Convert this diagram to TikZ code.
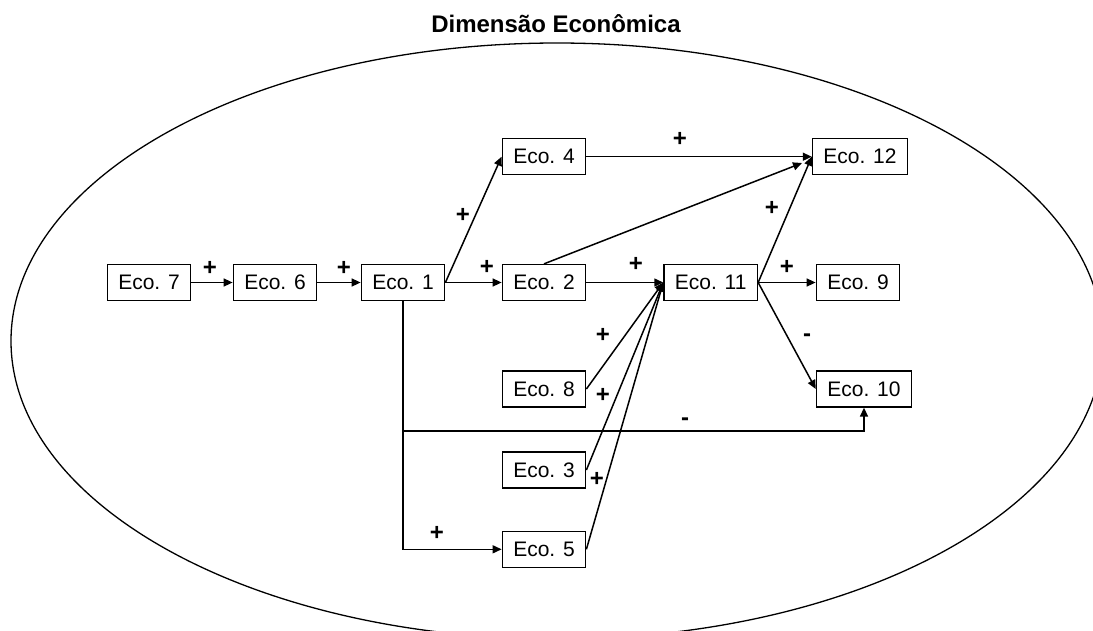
\documentclass[tikz,border=0pt]{standalone}
\usepackage{fontspec}
\setmainfont{Liberation Sans}
\usetikzlibrary{arrows.meta,calc}
\begin{document}
\begin{tikzpicture}[x=1pt,y=-1pt,
  ecobox/.style={draw,line width=1.3pt,inner xsep=11pt,inner ysep=0pt,minimum height=36pt,font=\fontsize{21}{24}\selectfont},
  conn/.style={line width=1.5pt,-{Triangle[length=9pt,width=8pt]}},
  sgn/.style={font=\fontsize{24}{28}\selectfont\bfseries,inner sep=0pt}]
\useasboundingbox (0,0) rectangle (1093,630);
\begin{scope}
\clip (0,0) rectangle (1093,630);
\draw[line width=1.3pt] (557,341) ellipse [x radius=546, y radius=298];
\end{scope}
\node[font=\fontsize{24}{28}\selectfont\bfseries,inner sep=0pt] (title) at (556,24) {Dimensão Econômica};

\node[ecobox] (e7) at (149,282.5) {Eco. 7};
\node[ecobox] (e6) at (275,282.5) {Eco. 6};
\node[ecobox] (e1) at (403,282.5) {Eco. 1};
\node[ecobox] (e4) at (544,156.7) {Eco. 4};
\node[ecobox] (e2) at (544,282.5) {Eco. 2};
\node[ecobox] (e8) at (544,389) {Eco. 8};
\node[ecobox] (e3) at (544,470) {Eco. 3};
\node[ecobox] (e5) at (544,549.3) {Eco. 5};
\node[ecobox] (e11) at (710.7,282.5) {Eco. 11};
\node[ecobox] (e12) at (860,156.7) {Eco. 12};
\node[ecobox] (e9) at (858,282.5) {Eco. 9};
\node[ecobox] (e10) at (864,389) {Eco. 10};

\coordinate (e12in) at (802,163);
\coordinate (c1a) at (403,431);
\coordinate (c1b) at (403,549.3);

\draw[conn] (e7) -- (e6);
\draw[conn] (e6) -- (e1);
\draw[conn] (e1) -- (e2);
\draw[conn] (e1.east) -- (e4.west);
\draw[conn] (e4) -- (e12);
\draw[conn] (e2.north) -- (e12in);
\draw[conn] (e2) -- (e11);
\draw[conn] (e8.east) -- (e11.west);
\draw[conn] (e3.east) -- (e11.west);
\draw[conn] (e5.east) -- (e11.west);
\draw[conn] (e11.east) -- (e12.west);
\draw[conn] (e11) -- (e9);
\draw[conn] (e11.east) -- (e10.west);
\draw[conn] (e1.south) -- (c1a) -| (e10.south);
\draw[conn] (e1.south) -- (c1b) -- (e5.west);

\node[sgn] (s1) at (210,268) {+};
\node[sgn] (s2) at (344,268) {+};
\node[sgn] (s3) at (487,267) {+};
\node[sgn] (s4) at (463,215) {+};
\node[sgn] (s5) at (680,139) {+};
\node[sgn] (s6) at (636,264) {+};
\node[sgn] (s7) at (772,208) {+};
\node[sgn] (s8) at (787,267) {+};
\node[sgn] (s9) at (807,338) {-};
\node[sgn] (s10) at (603,335) {+};
\node[sgn] (s11) at (603,395) {+};
\node[sgn] (s12) at (597,479) {+};
\node[sgn] (s13) at (685,422) {-};
\node[sgn] (s14) at (437,533) {+};
\end{tikzpicture}
\end{document}
